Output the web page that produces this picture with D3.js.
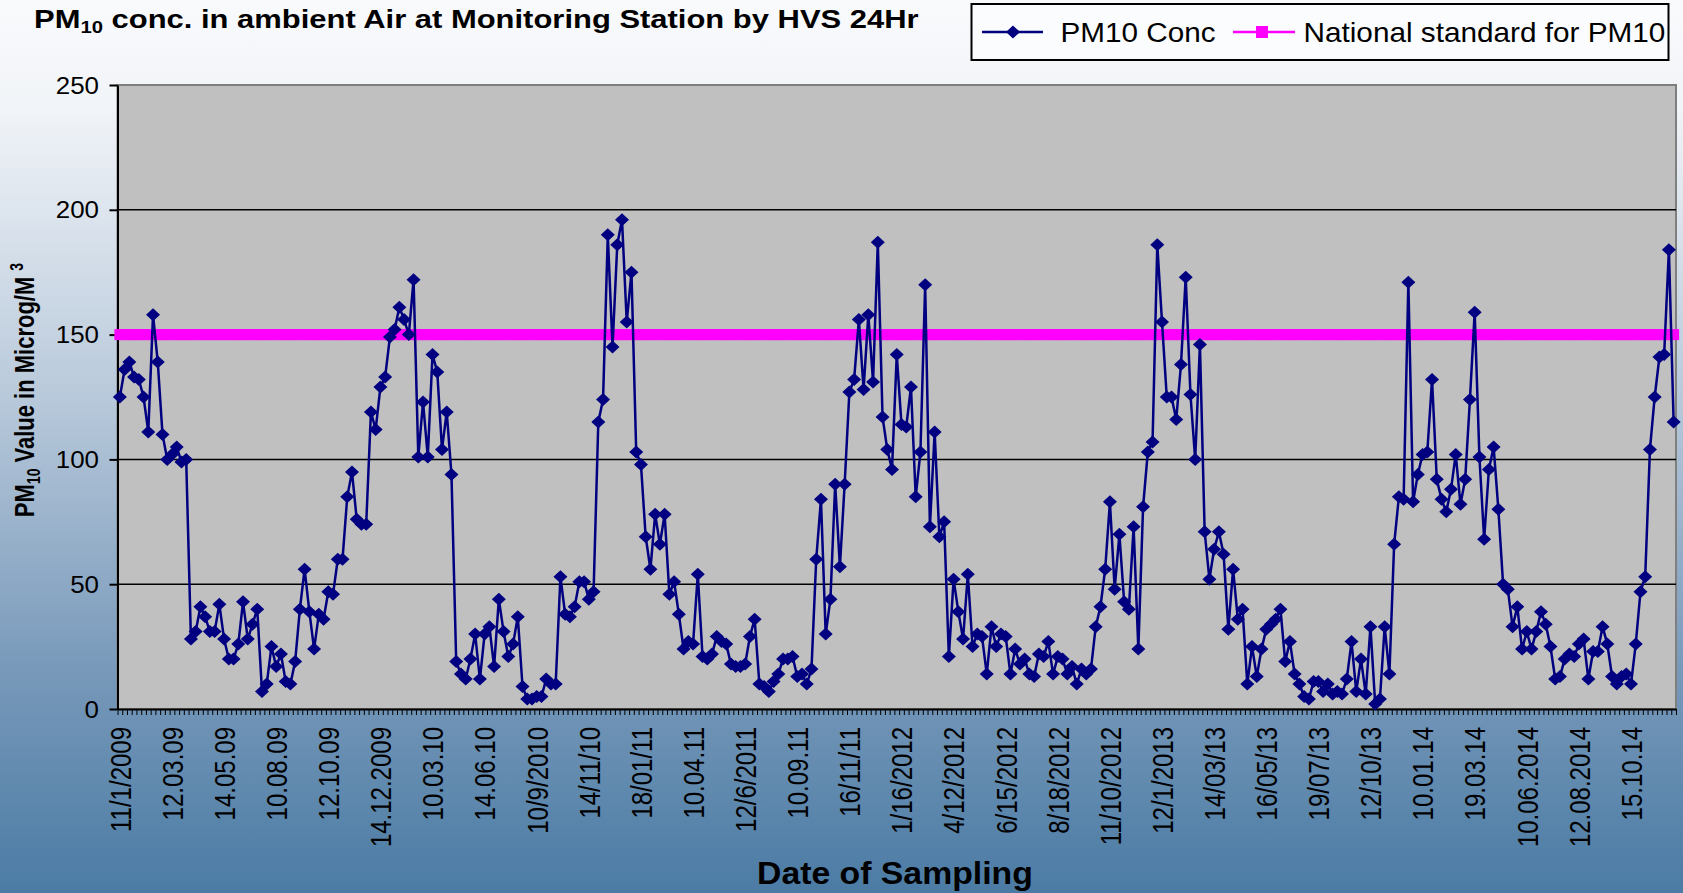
<!DOCTYPE html>
<meta charset="utf-8">
<style>
    body { margin: 0; background: #fff; }
    text { font-family: "Liberation Sans", Arial, sans-serif; fill: #000; }
    .grid line { stroke: #000; stroke-width: 1.5; }
    .axis path, .axis line { stroke: #000; stroke-width: 2; }
    .series { fill: none; stroke: #000080; stroke-width: 2.5; }
    .std { fill: none; stroke: #ff00ff; stroke-width: 3; }
</style>
<body>
<script src="https://d3js.org/d3.v7.min.js"></script>
<script>

    // PM10 (24 hr, HVS) readings, one per sampling day, Jan 2009 - late 2014
    var pm10 = [
        125, 136, 139, 133, 132, 125, 111, 158, 139, 110, 100, 102, 105, 99, 100,
        28, 31, 41, 37, 31, 31, 42, 28, 20, 20, 26, 43, 28, 34, 40,
        7, 10, 25, 17, 22, 11, 10, 19, 40, 56, 39, 24,
        38, 36, 47, 46, 60, 60, 85, 95, 76, 74, 74, 119, 112, 129, 133, 149, 152, 161, 156, 150, 172,
        101, 123, 101, 142, 135, 104, 119, 94,
        19, 14, 12, 20, 30, 12, 30, 33, 17, 44, 31, 21, 26, 37,
        9, 4, 4, 5, 5, 12, 10, 10, 53, 38, 37, 41, 51, 51, 44, 47,
        115, 124, 190, 145, 186, 196, 155, 175, 103, 98,
        69, 56, 78, 66, 78, 46, 51, 38, 24, 27, 26, 54, 21, 20, 22,
        29, 27, 26, 18, 17, 17, 18, 29, 36, 10, 9, 7, 11, 14, 20, 20, 21, 13, 14, 10, 16,
        60, 84, 30, 44, 90, 57, 90, 127, 132, 156, 128, 158, 131, 187, 117, 104, 96, 142, 114, 113, 129, 85, 103, 170,
        73, 111, 69, 75, 21, 52, 39, 28, 54, 25, 30, 29, 14, 33, 25, 30, 29, 14, 24, 18,
        20, 14, 13, 22, 21, 27, 14, 21, 20, 14, 17, 10, 16, 14, 16, 33, 41, 56, 83, 48, 70,
        43, 40, 73, 24, 81, 103, 107, 186, 155, 125, 125, 116, 138, 173, 126, 100, 146, 71, 52, 64,
        71, 62, 32, 56, 36, 40, 10, 25, 13, 24, 32, 34, 36, 40, 19, 27, 14, 10, 5, 4, 11,
        11, 7, 10, 6, 7, 6, 12, 27, 7, 20, 6, 33, 2, 4, 33, 14, 66, 85, 84, 171,
        83, 94, 102, 103, 132, 92, 84, 79, 88, 102, 82, 92, 124, 159, 101, 68, 96, 105, 80, 50, 48, 33,
        41, 24, 31, 24, 31, 39, 34, 25, 12, 13, 20, 22, 21, 26, 28, 12, 23, 23, 33, 26,
        13, 10, 13, 14, 10, 26, 47, 53, 104, 125, 141, 142, 184, 115
    ];

    var nationalStandard = 150;

    // date label shown under every 11th sample
    var tickLabels = ["11/1/2009", "12.03.09", "14.05.09", "10.08.09", "12.10.09", "14.12.2009",
        "10.03.10", "14.06.10", "10/9/2010", "14/11/10", "18/01/11", "10.04.11", "12/6/2011",
        "10.09.11", "16/11/11", "1/16/2012", "4/12/2012", "6/15/2012", "8/18/2012", "11/10/2012",
        "12/1/2013", "14/03/13", "16/05/13", "19/07/13", "12/10/13", "10.01.14", "19.03.14",
        "10.06.2014", "12.08.2014", "15.10.14"];
    var labelEvery = 11;

    var yTicks = [0, 50, 100, 150, 200, 250];

    var W = 1683, H = 893;
    var plot = {left: 117.5, right: 1676, top: 85, bottom: 709};

    var svg = d3.select("body").append("svg")
            .attr("width", W)
            .attr("height", H);

    var defs = svg.append("defs");
    var grad = defs.append("linearGradient")
            .attr("id", "bg")
            .attr("x1", 0).attr("y1", 0).attr("x2", 0).attr("y2", 1);
    [[0, "#f9fafc"], [0.12, "#f1f4f8"], [0.45, "#b7c8da"], [0.75, "#7899ba"], [1, "#4b7ba4"]]
        .forEach(function(s) {
            grad.append("stop").attr("offset", s[0]).attr("stop-color", s[1]);
        });

    svg.append("rect")
            .attr("width", W)
            .attr("height", H)
            .attr("fill", "url(#bg)");

    var x = d3.scaleBand()
            .domain(d3.range(pm10.length))
            .range([plot.left, plot.right]);
    var xc = function(i) { return x(i) + x.bandwidth() / 2; };
    var xEdge = d3.scaleLinear()
            .domain([0, pm10.length])
            .range([plot.left, plot.right]);

    var y = d3.scaleLinear()
            .domain([0, 250])
            .range([plot.bottom, plot.top]);

    // plot area
    svg.append("rect")
            .attr("x", plot.left)
            .attr("y", plot.top)
            .attr("width", plot.right - plot.left)
            .attr("height", plot.bottom - plot.top)
            .attr("fill", "#c0c0c0")
            .attr("stroke", "#7f7f7f")
            .attr("stroke-width", 2);

    svg.append("g")
            .attr("class", "grid")
        .selectAll("line")
        .data(yTicks.slice(1, -1))
        .enter().append("line")
            .attr("x1", plot.left)
            .attr("x2", plot.right)
            .attr("y1", function(d) { return y(d); })
            .attr("y2", function(d) { return y(d); });

    // y axis
    svg.append("g")
            .attr("class", "axis")
            .attr("transform", "translate(" + plot.left + ",0)")
            .call(d3.axisLeft(y).tickValues(yTicks).tickSize(8).tickSizeOuter(0).tickFormat(""));

    svg.append("g").selectAll("text")
        .data(yTicks)
        .enter().append("text")
            .attr("transform", function(d) { return "translate(99," + y(d) + ") scale(1.08,1)"; })
            .attr("dy", "0.36em")
            .attr("text-anchor", "end")
            .style("font-size", "24px")
            .text(function(d) { return d; });

    // x axis: a tick between every pair of samples
    svg.append("g")
            .attr("class", "axis")
            .attr("transform", "translate(0," + plot.bottom + ")")
            .call(d3.axisBottom(xEdge).tickValues(d3.range(pm10.length + 1)).tickSize(6).tickSizeOuter(0).tickFormat(""))
        .selectAll(".tick line")
            .style("stroke-width", 1);

    svg.append("g").selectAll("text")
        .data(tickLabels)
        .enter().append("text")
            .attr("transform", function(d, i) {
                return "translate(" + xc(i * labelEvery) + ",727) scale(1.25,1) rotate(-90)";
            })
            .attr("dy", "0.36em")
            .attr("text-anchor", "end")
            .style("font-size", "24px")
            .text(function(d) { return d; });

    // national standard
    var stdLine = d3.line()
            .x(function(d, i) { return xc(i); })
            .y(function() { return y(nationalStandard); });

    svg.append("path")
            .datum(pm10)
            .attr("class", "std")
            .attr("d", stdLine);

    svg.append("g").selectAll("rect")
        .data(pm10)
        .enter().append("rect")
            .attr("x", function(d, i) { return xc(i) - 5.5; })
            .attr("y", y(nationalStandard) - 5.5)
            .attr("width", 11)
            .attr("height", 11)
            .attr("fill", "#ff00ff");

    // PM10 series
    var line = d3.line()
            .x(function(d, i) { return xc(i); })
            .y(function(d) { return y(d); });

    svg.append("path")
            .datum(pm10)
            .attr("class", "series")
            .attr("d", line);

    var diamond = "M0,-6.5L7,0L0,6.5L-7,0Z";
    svg.append("g").selectAll("path")
        .data(pm10)
        .enter().append("path")
            .attr("transform", function(d, i) { return "translate(" + xc(i) + "," + y(d) + ")"; })
            .attr("d", diamond)
            .attr("fill", "#000080");

    // stretch a left-anchored text horizontally to a measured width
    function fit(t, x0, yb, width) {
        var w = t.node().getComputedTextLength();
        t.attr("transform", "translate(" + x0 + "," + yb + ") scale(" + (width / w) + ",1)");
    }

    // title
    var title = svg.append("text")
            .style("font-size", "26px")
            .style("font-weight", "bold");
    title.append("tspan").text("PM");
    title.append("tspan").style("font-size", "17px").attr("dy", 5).text("10");
    title.append("tspan").attr("dy", -5).text(" conc. in ambient Air at Monitoring Station by HVS 24Hr");
    fit(title, 34, 28, 885);

    // legend
    svg.append("rect")
            .attr("x", 971.5)
            .attr("y", 4)
            .attr("width", 697)
            .attr("height", 56)
            .attr("fill", "#fbfcfd")
            .attr("stroke", "#000")
            .attr("stroke-width", 2);

    svg.append("line")
            .attr("x1", 982).attr("x2", 1043)
            .attr("y1", 32).attr("y2", 32)
            .attr("stroke", "#000080").attr("stroke-width", 2.5);
    svg.append("path")
            .attr("transform", "translate(1013,32)")
            .attr("d", diamond)
            .attr("fill", "#000080");
    fit(svg.append("text").style("font-size", "27px").text("PM10 Conc"), 1060.5, 42, 155);

    svg.append("line")
            .attr("x1", 1233).attr("x2", 1295)
            .attr("y1", 32).attr("y2", 32)
            .attr("stroke", "#ff00ff").attr("stroke-width", 2.5);
    svg.append("rect")
            .attr("x", 1256).attr("y", 26)
            .attr("width", 12).attr("height", 12)
            .attr("fill", "#ff00ff");
    fit(svg.append("text").style("font-size", "27px").text("National standard for PM10"), 1303.5, 42, 362);

    // axis titles
    fit(svg.append("text").style("font-size", "31px").style("font-weight", "bold").text("Date of Sampling"), 757, 884, 276);

    var yTitle = svg.append("text")
            .attr("transform", "translate(34,390) scale(1.25,1) rotate(-90)")
            .attr("text-anchor", "middle")
            .style("font-size", "22px")
            .style("font-weight", "bold");
    yTitle.append("tspan").text("PM");
    yTitle.append("tspan").style("font-size", "14px").attr("dy", 5).text("10");
    yTitle.append("tspan").attr("dy", -5).text(" Value in Microg/M ");
    yTitle.append("tspan").style("font-size", "14px").attr("dy", -9).text("3");

</script>
